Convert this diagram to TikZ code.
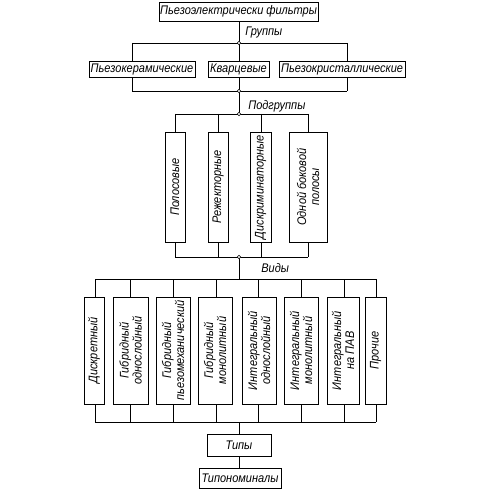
\documentclass[tikz,border=0pt]{standalone}
\usepackage{fontspec}
\newfontfamily\schemefont{Liberation Sans}[FakeStretch=0.88]
\usetikzlibrary{positioning}
\begin{document}
\begin{tikzpicture}[x=1pt,y=-1pt,line width=0.6pt,
  block/.style={draw,inner sep=0pt,align=center,font=\schemefont\itshape\fontsize{12.5}{13}\selectfont},
  vblock/.style={block,rotate=90},
  joint/.style={circle,draw,fill=white,inner sep=0pt,minimum size=3.5pt},
  caption/.style={anchor=west,inner sep=0pt,font=\schemefont\itshape\fontsize{12.5}{13}\selectfont}]
\useasboundingbox (0,0) rectangle (494,494);
\node[block,minimum width=159,minimum height=19] (pf) at (238.5,11.5) {Пьезоэлектрически фильтры};
\node[block,minimum width=106,minimum height=16] (pk) at (142,69) {Пьезокерамические};
\node[block,minimum width=61,minimum height=16] (kv) at (238.5,69) {Кварцевые};
\node[block,minimum width=126,minimum height=16] (pkr) at (342,69) {Пьезокристаллические};
\node[vblock,minimum width=110,minimum height=20] (pol) at (175,187) {Полосовые};
\node[vblock,minimum width=110,minimum height=20] (rej) at (218,187) {Режекторные};
\node[vblock,minimum width=110,minimum height=21] (dis) at (260.5,187) {Дискриминаторные};
\node[vblock,minimum width=110,minimum height=38] (obp) at (308,187) {Одной боковой\\ полосы};
\node[vblock,minimum width=107,minimum height=20] (v1) at (94,350.5) {Дискретный};
\node[vblock,minimum width=107,minimum height=35] (v2) at (130.5,350.5) {Гибридный\\ однослойный};
\node[vblock,minimum width=107,minimum height=34] (v3) at (173,350.5) {Гибридный\\ пьезомеханический};
\node[vblock,minimum width=107,minimum height=34] (v4) at (215,350.5) {Гибридный\\ монолитный};
\node[vblock,minimum width=107,minimum height=34] (v5) at (259,350.5) {Интегральный\\ однослойный};
\node[vblock,minimum width=107,minimum height=34] (v6) at (301,350.5) {Интегральный\\ монолитный};
\node[vblock,minimum width=107,minimum height=32] (v7) at (343,350.5) {Интегральный\\ на ПАВ};
\node[vblock,minimum width=107,minimum height=21] (v8) at (375.5,350.5) {Прочие};
\node[block,minimum width=64,minimum height=22] (tip) at (239,445) {Типы};
\node[block,minimum width=82,minimum height=20] (tnom) at (240,478) {Типономиналы};
\coordinate (gl) at (132,43);
\coordinate (gr) at (347,43);
\coordinate (gj) at (239,43);
\coordinate (hl) at (132,91);
\coordinate (hr) at (347,91);
\coordinate (hj) at (239,91);
\coordinate (sl) at (175,114);
\coordinate (sr) at (308,114);
\coordinate (sj) at (239,114);
\coordinate (tl) at (175,257);
\coordinate (tr) at (308,257);
\coordinate (tj) at (239,257);
\coordinate (ul) at (95,279);
\coordinate (ur) at (376,279);
\coordinate (uj) at (239,279);
\coordinate (wl) at (95,422);
\coordinate (wr) at (376,422);
\coordinate (wj) at (239,422);
\draw (gl) -- (gr);
\draw (hl) -- (hr);
\draw (sl) -- (sr);
\draw (tl) -- (tr);
\draw (ul) -- (ur);
\draw (wl) -- (wr);
\draw (pf.south -| gj) -- (gj);
\draw (hj) -- (sj);
\draw (tj) -- (uj);
\draw (wj) -- (tip.north -| wj);
\draw (tip.south -| wj) -- (tnom.north -| wj);
\draw (gl) -- (gl |- pk.north);
\draw (pk.south -| hl) -- (hl);
\draw (gj) -- (kv.north -| gj);
\draw (kv.south -| hj) -- (hj);
\draw (gr) -- (gr |- pkr.north);
\draw (pkr.south -| hr) -- (hr);
\foreach \b/\x in {pol/175,rej/218,dis/261,obp/308}{
  \draw (\x,114) -- (\b.east -| {(\x,0)});
  \draw (\b.west -| {(\x,0)}) -- (\x,257);
}
\foreach \b/\x in {v1/95,v2/130,v3/173,v4/216,v5/258,v6/301,v7/344,v8/376}{
  \draw (\x,279) -- (\b.east -| {(\x,0)});
  \draw (\b.west -| {(\x,0)}) -- (\x,422);
}
\node[joint] at (gj) {};
\node[joint] at (hj) {};
\node[joint] at (sj) {};
\node[joint] at (tj) {};
\node[caption] (grp) at (245,32) {Группы};
\node[caption] (pgrp) at (248,106) {Подгруппы};
\node[caption] (vid) at (261,268) {Виды};
\end{tikzpicture}
\end{document}
